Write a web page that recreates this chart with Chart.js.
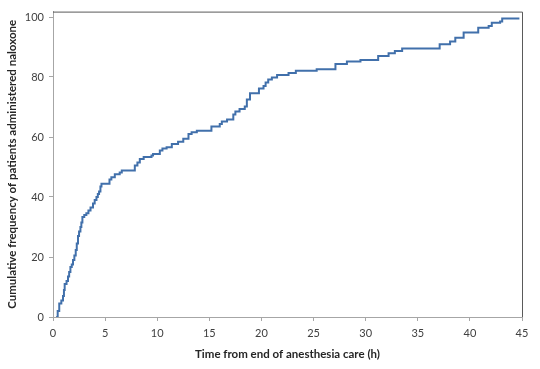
<!DOCTYPE html>
<html>
<head>
<meta charset="utf-8">
<script src="https://cdn.jsdelivr.net/npm/chart.js@4.4.1/dist/chart.umd.min.js"></script>
<style>
  html, body { margin: 0; padding: 0; background: #fff; }
  #wrap { width: 540px; height: 369px; position: relative; }
</style>
</head>
<body>
<div id="wrap"><canvas id="grafico"></canvas></div>
<script>
// Tempo (h) em que ocorre cada degrau, e frequência acumulada (%) depois dele
const horas = [
  0.3, 0.45, 0.6, 0.8, 0.96, 1.05, 1.12, 1.3, 1.44, 1.55, 1.67, 1.8, 1.92, 2.05,
  2.18, 2.28, 2.4, 2.5, 2.63, 2.72, 2.82, 3.0, 3.2, 3.4, 3.6, 3.84, 4.0, 4.17,
  4.3, 4.42, 4.55, 4.65, 5.42, 5.6, 5.93, 6.4, 6.6, 7.85, 8.1, 8.33, 8.7, 9.45,
  9.6, 10.25, 10.5, 10.9, 11.4, 12.0, 12.5, 13.0, 13.3, 13.8, 15.2, 16.0, 16.2,
  16.7, 17.3, 17.5, 17.9, 18.4, 18.6, 18.9, 19.76, 20.2, 20.4, 20.65, 21.0, 21.5,
  22.6, 23.3, 25.3, 27.1, 28.2, 29.5, 31.2, 32.2, 32.8, 33.5, 37.1, 38.1, 38.6,
  39.4, 40.8, 41.8, 42.1, 42.9, 43.1, 44.75
];
const frequencia = [
  0, 2, 4.5, 5.5, 7, 9, 11, 12, 13.5, 15, 16.7, 17.5, 19, 20.5,
  22.3, 24.5, 27, 28.5, 30, 31.5, 33.3, 34, 34.6, 35.5, 36.5, 37.8, 39, 40,
  41, 41.8, 43.5, 44.4, 45.8, 46.6, 47.6, 48.2, 48.8, 50.5, 51.5, 52.7, 53.3, 53.8,
  54.3, 55.5, 56.2, 56.6, 57.7, 58.4, 59.4, 61, 61.6, 62.1, 63.5, 64.3, 65.2,
  65.8, 67.5, 68.5, 69.3, 70.2, 72.5, 74.6, 76.2, 77, 78.2, 79.2, 79.8, 80.7,
  81.3, 82.1, 82.6, 84.3, 85.2, 85.7, 87, 87.9, 88.7, 89.5, 90.9, 91.8, 93.1,
  94.8, 96.4, 97, 98.1, 98.5, 99.5, 99.5
];
const ticksX = [0, 5, 10, 15, 20, 25, 30, 35, 40, 45];
const ticksY = [0, 20, 40, 60, 80, 100];

const tituloX = "Time from end of anesthesia care (h)";
const tituloY = "Cumulative frequency of patients administered naloxone";

const pontos = horas.map((h, i) => ({ x: h, y: frequencia[i] }));

// Moldura de cima e da direita, como no gráfico do Excel
const moldura = {
  id: "moldura",
  afterDraw(chart) {
    const a = chart.chartArea;
    const ctx = chart.ctx;
    ctx.save();
    ctx.strokeStyle = "#5a5a5a";
    ctx.lineWidth = 1;
    ctx.beginPath();
    ctx.moveTo(a.left, a.top + 0.5);
    ctx.lineTo(a.right + 0.5, a.top + 0.5);
    ctx.lineTo(a.right + 0.5, a.bottom);
    ctx.stroke();
    ctx.restore();
  }
};

new Chart(document.getElementById("grafico").getContext("2d"), {
  type: "line",
  data: {
    datasets: [{
      data: pontos,
      stepped: true,
      borderColor: "#4170AB",
      borderWidth: 2,
      pointRadius: 0,
      fill: false
    }]
  },
  options: {
    responsive: true,
    maintainAspectRatio: false,
    animation: false,
    layout: { padding: { top: 10, right: 18, bottom: 8, left: 5 } },
    plugins: { legend: { display: false }, tooltip: { enabled: false } },
    scales: {
      x: {
        type: "linear",
        min: 0,
        max: 45,
        afterBuildTicks: s => { s.ticks = ticksX.map(v => ({ value: v })); },
        afterFit: s => { s.height = 44; },
        grid: { drawOnChartArea: false, drawTicks: true, tickLength: 4, color: "#a6a6a6" },
        border: { color: "#a6a6a6" },
        ticks: { color: "#404040", font: { family: "Lato", size: 11 }, padding: 6, maxRotation: 0 },
        title: {
          display: true,
          text: tituloX,
          color: "#262626",
          font: { family: "Lato", size: 11.5, weight: "bold" },
          padding: { top: 4, bottom: 0 }
        }
      },
      y: {
        min: 0,
        max: 101.8,
        afterBuildTicks: s => { s.ticks = ticksY.map(v => ({ value: v })); },
        afterFit: s => { s.width = 48; },
        grid: { drawOnChartArea: false, drawTicks: true, tickLength: 4, color: "#a6a6a6" },
        border: { color: "#a6a6a6" },
        ticks: { color: "#404040", font: { family: "Lato", size: 11 }, padding: 5 },
        title: {
          display: true,
          text: tituloY,
          color: "#262626",
          font: { family: "Lato", size: 11.5, weight: "bold" },
          padding: { top: 0, bottom: 4 }
        }
      }
    }
  },
  plugins: [moldura]
});
</script>
</body>
</html>
